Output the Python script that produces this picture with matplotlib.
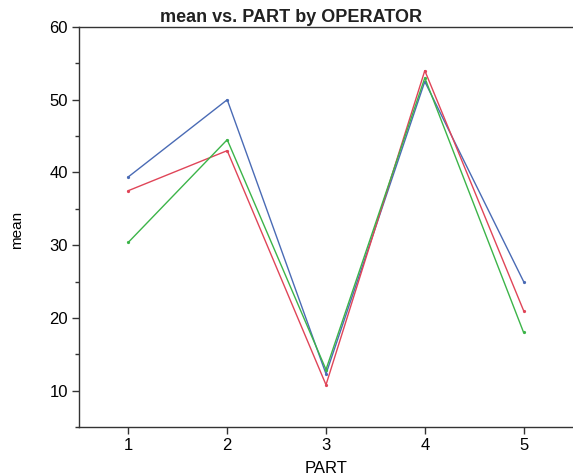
import matplotlib.pyplot as plt
from matplotlib.ticker import MultipleLocator

plt.rcParams['font.family'] = ['Liberation Sans', 'DejaVu Sans']

parts = [1, 2, 3, 4, 5]
op_blue = [39.4, 50.0, 12.3, 52.5, 25.0]
op_red = [37.5, 43.0, 10.8, 54.0, 21.0]
op_green = [30.4, 44.5, 12.9, 53.0, 18.0]

series = [
    (op_blue, '#4a6bb5'),
    (op_red, '#e04558'),
    (op_green, '#3cb449'),
]

fig = plt.figure(figsize=(5.73, 4.76), dpi=100)
ax = fig.add_axes([79 / 573, 49 / 476, 494 / 573, 400 / 476])

for vals, col in series:
    ax.plot(parts, vals, color=col, lw=1.0, marker='o', ms=1.3, mec=col, mfc=col)

ax.set_xlim(0.5, 5.5)
ax.set_ylim(5, 60)
ax.set_xticks(parts)
ax.set_yticks([10, 20, 30, 40, 50, 60])
ax.yaxis.set_minor_locator(MultipleLocator(5))

ax.spines['right'].set_visible(False)
for s in ['left', 'top', 'bottom']:
    ax.spines[s].set_color('#333333')
    ax.spines[s].set_linewidth(1.0)

ax.tick_params(axis='both', which='major', length=5, width=1, color='#333333', labelsize=12, pad=3)
ax.tick_params(axis='y', which='minor', length=3, width=1, color='#333333')
ax.tick_params(axis='x', which='minor', length=0)

ax.set_xlabel('PART', fontsize=12, labelpad=6)
fig.text(17 / 573, 1 - 230 / 476, 'mean', rotation=90, ha='center', va='center', fontsize=11)

fig.text(291 / 573, 1 - 18 / 476, 'mean vs. PART by OPERATOR', ha='center', va='center',
         fontsize=13, fontweight='bold', color='#222222')

fig.savefig('out.png', dpi=100)
